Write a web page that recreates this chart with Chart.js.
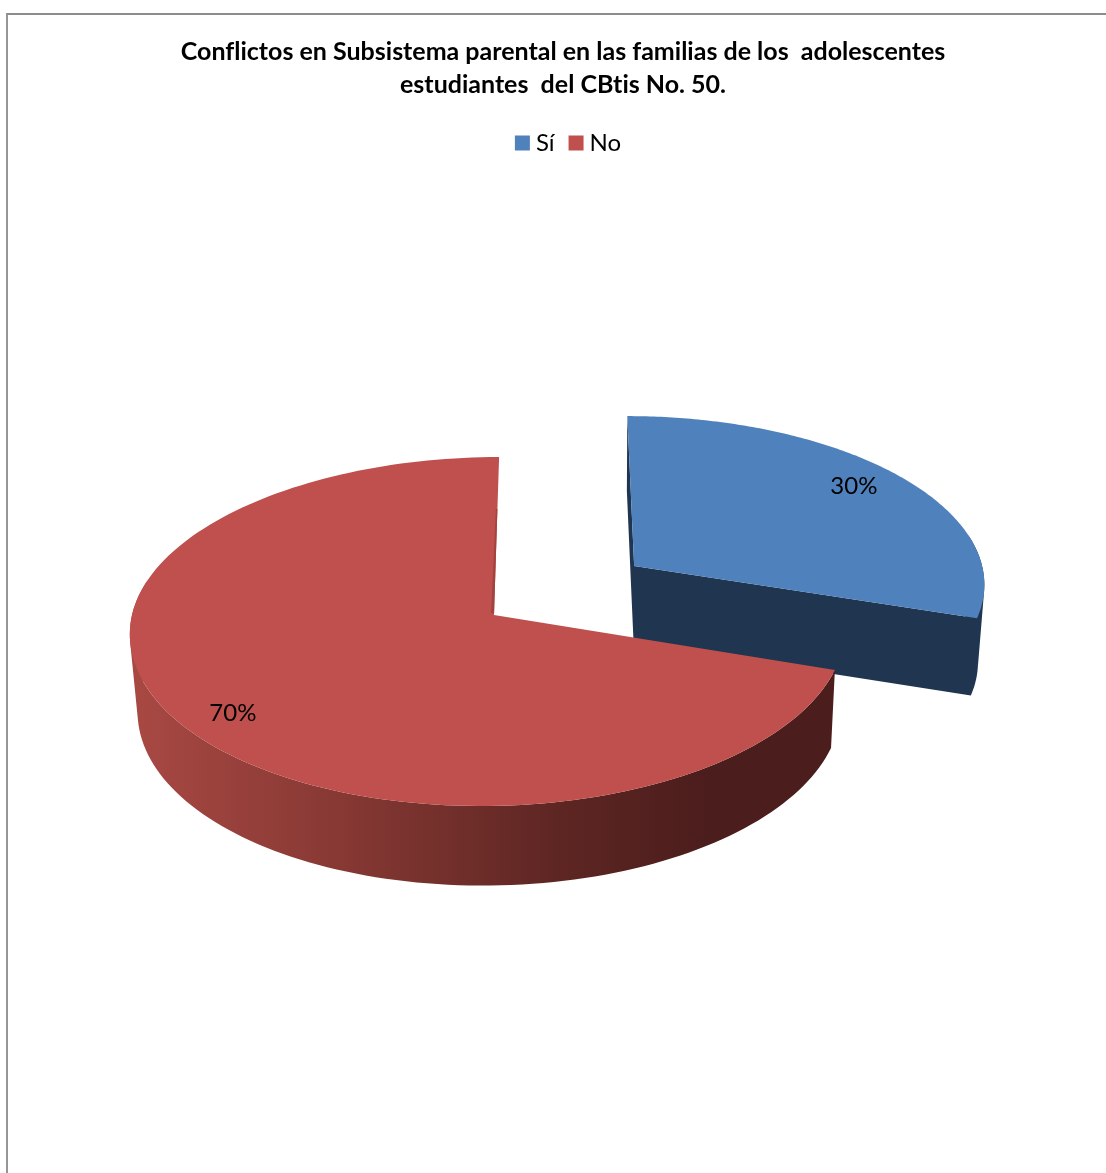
<!DOCTYPE html>
<html lang="es">
<head>
<meta charset="utf-8">
<title>Conflictos en Subsistema parental</title>
<script src="https://cdn.jsdelivr.net/npm/chart.js@4/dist/chart.umd.js"></script>
<style>
    html, body { margin: 0; background: #fff; }
    #page { position: relative; width: 1106px; height: 1173px; overflow: hidden; }
    #frame { position: absolute; left: 6px; top: 13px; right: -4px; bottom: -4px;
             border-left: 2px solid #969696; border-top: 2px solid #8c8c8c; }
    #pie { position: absolute; left: 0; top: 0; }
</style>
</head>
<body>
<div id="page">
    <div id="frame"></div>
    <canvas id="pie" width="1106" height="1173"></canvas>
</div>
<script>
const categories = ['Sí', 'No'];
const values = [30, 70];
const titleLines = [
    'Conflictos en Subsistema parental en las familias de los  adolescentes',
    'estudiantes  del CBtis No. 50.'
];
const faceColors = ['#4F81BD', '#BF504D'];
const FONT = 'Lato, Carlito, sans-serif';

// Ground-plane perspective: unit-circle coordinates to screen pixels
const view = { apexX: 494, vanishX: 553, radiusX: 356, horizon: -1213, span: 1828, tilt: 0.0946 };

// Small per-slice warp of the rim (px at the side and at the front of the slice)
const rimBend = [{ side: 1.5, front: 0 }, { side: -6, front: -7 }];
const labelNudge = [[-7, -1], [2, 6]];

function projectTop(u, v, dx = 0) {
    const t = 1 - view.tilt * v;
    return [
        view.vanishX + (view.apexX - view.vanishX + view.radiusX * u) / t + dx,
        view.horizon + view.span / t
    ];
}

// Same point on the underside of the pie
function projectBottom(u, v, dx = 0) {
    const t = 1 - view.tilt * v;
    const x = projectTop(u, v, dx)[0];
    return [600 + (x - 600) * 0.9835, 696 + 1850 * (1 / t - 1.002)];
}

function tracePoints(ctx, points) {
    points.forEach((p, i) => (i ? ctx.lineTo(p[0], p[1]) : ctx.moveTo(p[0], p[1])));
    ctx.closePath();
}

// Quads wound the same way, so they fill as one shape with no seams
function traceQuad(ctx, quad) {
    let area = 0;
    quad.forEach((p, i) => {
        const q = quad[(i + 1) % quad.length];
        area += p[0] * q[1] - q[0] * p[1];
    });
    tracePoints(ctx, area < 0 ? quad.slice().reverse() : quad);
}

function wallGradient(ctx) {
    const g = ctx.createLinearGradient(135, 0, 835, 0);
    g.addColorStop(0, '#A84843');
    g.addColorStop(0.3, '#863833');
    g.addColorStop(0.6, '#5E2623');
    g.addColorStop(0.82, '#4B1D1C');
    g.addColorStop(1, '#4B1D1C');
    return g;
}

const pie3d = {
    id: 'pie3d',
    beforeDraw(chart) {
        chart.ctx.textRendering = 'optimizeSpeed';
    },
    afterLayout(chart) {
        chart.legend.left += 8;
        chart.legend.right += 8;
    },
    // Arcs are rendered here as a solid pie, so the flat draw is skipped
    beforeDatasetsDraw(chart) {
        const ctx = chart.ctx;
        const arcs = chart.getDatasetMeta(0).data;
        const wallFills = ['#1F3550', wallGradient(ctx)];

        ctx.save();
        arcs.forEach((arc, i) => {
            const mid = (arc.startAngle + arc.endAngle) / 2;
            const shift = (arc.options.offset || 0) / view.radiusX;
            const ox = Math.cos(mid) * shift;
            const oy = Math.sin(mid) * shift;
            const bend = a => rimBend[i].side * Math.cos(a) ** 2
                + rimBend[i].front * Math.max(Math.sin(a), 0) ** 2;
            const top = a => projectTop(ox + Math.cos(a), oy + Math.sin(a), bend(a));
            const bottom = a => projectBottom(ox + Math.cos(a), oy + Math.sin(a), bend(a));

            const rim = [];
            const steps = 160;
            for (let s = 0; s <= steps; s++) {
                rim.push(arc.startAngle + (arc.endAngle - arc.startAngle) * s / steps);
            }

            // Outer wall, front part only
            const front = rim.filter(a => Math.sin(a) > -0.2);
            ctx.fillStyle = wallFills[i];
            ctx.beginPath();
            for (let s = 0; s < front.length - 1; s++) {
                traceQuad(ctx, [top(front[s]), top(front[s + 1]), bottom(front[s + 1]), bottom(front[s])]);
            }
            // Cut faces only show on the slice pulled away from the pie
            if (shift > 0) {
                [arc.startAngle, arc.endAngle].forEach(a => {
                    traceQuad(ctx, [projectTop(ox, oy), top(a), bottom(a), projectBottom(ox, oy)]);
                });
            }
            ctx.fill();

            ctx.fillStyle = arc.options.backgroundColor;
            ctx.beginPath();
            tracePoints(ctx, [projectTop(ox, oy)].concat(rim.map(top)));
            ctx.fill();
        });

        // Thin shaded seam along the closing edge of the large slice
        const seam = arcs[1].endAngle;
        const seamPoint = r => projectTop(Math.cos(seam) * r, Math.sin(seam) * r);
        const a = seamPoint(0.01), b = seamPoint(0.65);
        ctx.fillStyle = '#A34340';
        ctx.beginPath();
        tracePoints(ctx, [a, b, [b[0] - 1.5, b[1]], [a[0] - 3, a[1]]]);
        ctx.fill();

        // Percentage labels
        ctx.fillStyle = '#000';
        ctx.font = '24px ' + FONT;
        ctx.textAlign = 'center';
        ctx.textBaseline = 'middle';
        arcs.forEach((arc, i) => {
            const mid = (arc.startAngle + arc.endAngle) / 2;
            const shift = (arc.options.offset || 0) / view.radiusX;
            const p = projectTop(Math.cos(mid) * (shift + 0.86), Math.sin(mid) * (shift + 0.86));
            ctx.fillText(values[i] + '%', p[0] + labelNudge[i][0], p[1] + labelNudge[i][1]);
        });
        ctx.restore();
        return false;
    }
};

new Chart(document.getElementById('pie'), {
    type: 'pie',
    data: {
        labels: categories,
        datasets: [{
            data: values,
            backgroundColor: faceColors,
            borderWidth: 0,
            offset: [176, 0]
        }]
    },
    options: {
        responsive: false,
        animation: false,
        layout: { padding: { left: 20, top: 35 } },
        plugins: {
            tooltip: { enabled: false },
            title: {
                display: true,
                text: titleLines,
                color: '#000',
                font: { family: FONT, size: 25, weight: 'bold', lineHeight: 1.32 },
                padding: { top: 0, bottom: 10 }
            },
            legend: {
                position: 'top',
                labels: {
                    usePointStyle: true,
                    pointStyle: 'rect',
                    boxWidth: 3,
                    boxHeight: 15,
                    padding: 20,
                    color: '#000',
                    font: { family: FONT, size: 24 }
                }
            }
        }
    },
    plugins: [pie3d]
});
</script>
</body>
</html>
